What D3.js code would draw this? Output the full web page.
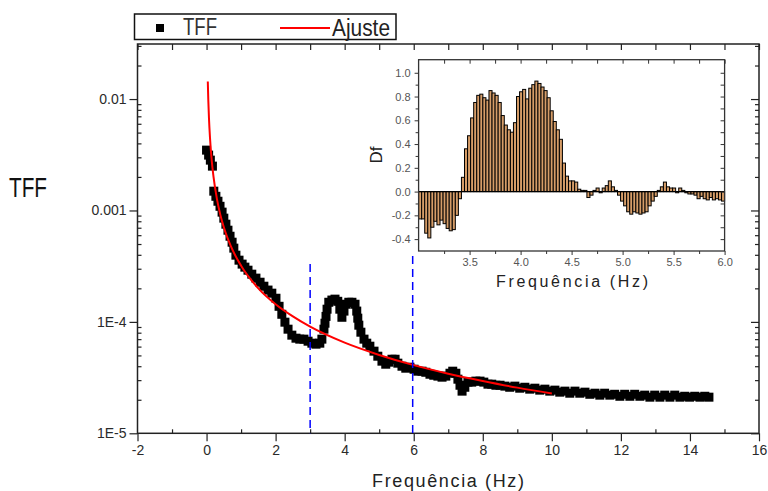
<!DOCTYPE html>
<html><head><meta charset="utf-8">
<script src="https://cdn.jsdelivr.net/npm/d3@7"></script>
<style>
body{margin:0;background:#fff}
svg{display:block}
text{font-family:"Liberation Sans",Arial,sans-serif}
</style>
</head><body>
<svg id="c" width="768" height="491"></svg>
<script>
// ---------- data ----------
const mainFreq = [0.00,0.06,0.11,0.17,0.21,0.27,0.33,0.39,0.45,0.50,
  0.56,0.62,0.68,0.74,0.79,0.85,0.94,1.03,1.11,1.20,
  1.31,1.43,1.55,1.66,1.78,1.89,2.01,2.10,2.18,2.27,
  2.36,2.47,2.59,2.70,2.82,2.94,3.05,3.17,3.28,3.34,
  3.40,3.43,3.46,3.49,3.54,3.63,3.72,3.80,3.86,3.92,
  3.98,4.04,4.12,4.21,4.30,4.35,4.38,4.41,4.47,4.56,
  4.64,4.73,4.85,4.96,5.08,5.19,5.28,5.37,5.46,5.54,
  5.66,5.77,5.89,6.01,6.12,6.24,6.35,6.47,6.58,6.70,
  6.82,6.93,7.05,7.13,7.22,7.28,7.34,7.40,7.48,7.57,
  7.68,7.80,7.92,8.03,8.15,8.26,8.38,8.50,8.64,8.78,
  8.93,9.07,9.22,9.36,9.51,9.65,9.80,9.94,10.09,10.23,
  10.38,10.52,10.67,10.81,10.96,11.10,11.25,11.39,11.53,11.68,
  11.82,11.97,12.11,12.26,12.40,12.55,12.69,12.84,12.98,13.13,
  13.27,13.42,13.56,13.71,13.85,13.99,14.14,14.29,14.43,14.55];
const mainTff = [3.48e-3,3.14e-3,2.83e-3,2.50e-3,1.49e-3,1.34e-3,1.21e-3,1.09e-3,9.66e-4,8.53e-4,
  7.53e-4,6.65e-4,5.87e-4,5.19e-4,4.59e-4,3.97e-4,3.58e-4,3.30e-4,3.10e-4,2.91e-4,
  2.68e-4,2.47e-4,2.27e-4,2.09e-4,1.93e-4,1.81e-4,1.63e-4,1.38e-4,1.17e-4,9.94e-5,
  8.60e-5,7.60e-5,7.14e-5,7.00e-5,7.00e-5,6.71e-5,6.44e-5,6.31e-5,6.44e-5,7.00e-5,
  8.60e-5,9.73e-5,1.12e-4,1.30e-4,1.50e-4,1.57e-4,1.60e-4,1.53e-4,1.30e-4,1.10e-4,
  1.25e-4,1.44e-4,1.50e-4,1.50e-4,1.44e-4,1.25e-4,1.08e-4,9.34e-5,8.08e-5,7.00e-5,
  6.44e-5,6.05e-5,5.46e-5,4.92e-5,4.44e-5,4.17e-5,4.35e-5,4.62e-5,4.62e-5,4.26e-5,
  4.00e-5,3.84e-5,3.92e-5,3.76e-5,3.61e-5,3.61e-5,3.53e-5,3.39e-5,3.32e-5,3.26e-5,
  3.19e-5,3.26e-5,3.46e-5,3.61e-5,3.46e-5,3.06e-5,2.70e-5,2.39e-5,2.59e-5,2.88e-5,
  2.88e-5,2.94e-5,2.94e-5,2.88e-5,2.76e-5,2.76e-5,2.70e-5,2.70e-5,2.65e-5,2.59e-5,
  2.65e-5,2.54e-5,2.59e-5,2.49e-5,2.54e-5,2.44e-5,2.49e-5,2.39e-5,2.44e-5,2.34e-5,
  2.39e-5,2.29e-5,2.39e-5,2.29e-5,2.34e-5,2.24e-5,2.29e-5,2.20e-5,2.29e-5,2.20e-5,
  2.24e-5,2.15e-5,2.24e-5,2.15e-5,2.24e-5,2.15e-5,2.20e-5,2.11e-5,2.20e-5,2.11e-5,
  2.20e-5,2.11e-5,2.20e-5,2.11e-5,2.15e-5,2.11e-5,2.15e-5,2.11e-5,2.15e-5,2.11e-5];

const fitFreq = [0.036,0.05,0.07,0.1,0.15,0.2,0.3,0.4,0.5,0.7,1,1.5,2,2.5,3,4,5,6,7,8,9,10];
const fitTff  = [1.44e-2,9.88e-3,6.72e-3,4.47e-3,2.80e-3,2.02e-3,1.27e-3,9.12e-4,7.06e-4,4.80e-4,
  3.19e-4,2.00e-4,1.44e-4,1.12e-4,9.06e-5,6.51e-5,5.05e-5,4.09e-5,3.43e-5,2.95e-5,2.57e-5,2.28e-5];

const cutFreq = [3.0, 5.97];
const cutTop  = [3.3e-4, 3.9e-4];

const xMajorTicks = [-2,0,2,4,6,8,10,12,14,16];
const xMinorTicks = [-1,1,3,5,7,9,11,13,15];
const yMajorTicks = [1e-5,1e-4,1e-3,1e-2];
const yMajorLabels = ["1E-5","1E-4","0.001","0.01"];

// inset (Df) bars
const dfStart = 3.015, dfStep = 0.03;
const dfValues = [-0.23,-0.23,-0.35,-0.39,-0.30,-0.25,-0.28,-0.24,-0.27,-0.31,
  -0.33,-0.32,-0.20,-0.06,0.12,0.36,0.47,0.62,0.75,0.81,
  0.82,0.79,0.77,0.85,0.83,0.81,0.75,0.64,0.56,0.52,
  0.50,0.58,0.80,0.84,0.86,0.78,0.87,0.90,0.93,0.91,
  0.88,0.85,0.79,0.68,0.59,0.52,0.44,0.24,0.13,0.09,
  0.09,0.08,0.02,0.01,0.01,-0.05,-0.03,0.01,0.03,-0.01,
  0.03,0.05,0.09,0.04,0.01,-0.03,-0.08,-0.12,-0.17,-0.19,
  -0.17,-0.18,-0.19,-0.18,-0.17,-0.12,-0.08,-0.04,0.01,0.04,
  0.08,0.04,0.03,0.03,-0.01,0.03,0.01,-0.01,-0.02,-0.02,
  -0.03,-0.06,-0.04,-0.06,-0.07,-0.05,-0.07,-0.06,-0.07,-0.08];
const dfFreq = dfValues.map((_, i) => +(dfStart + i * dfStep).toFixed(3));
const insetXTicks = [3.5,4.0,4.5,5.0,5.5,6.0];
const insetXMinor = [3.25,3.75,4.25,4.75,5.25,5.75];
const insetYTicks = [-0.4,-0.2,0.0,0.2,0.4,0.6,0.8,1.0];
const insetYMinor = [-0.3,-0.1,0.1,0.3,0.5,0.7,0.9];

// ---------- drawing ----------
const svg = d3.select("#c");
const P = {left:137.5, right:759, top:44, bottom:433.3};
const x = d3.scaleLinear().domain([-2,16]).range([P.left, P.right]);
const y = d3.scaleLog().domain([1e-5, 0.0312]).range([P.bottom, P.top]);
const yMinor = [];
[1e-5,1e-4,1e-3,1e-2].forEach(d => { for (let k=2;k<=9;k++){ const v=d*k; if (v<=0.0312) yMinor.push(v);} });

const axisColor = "#222";
function styleAxis(g, fs){
  g.select(".domain").remove();
  g.selectAll(".tick line").attr("stroke", axisColor).attr("stroke-width", 1.2);
  g.selectAll(".tick text").attr("fill", "#2a2a2a").style("font-size", fs+"px")
    .style("font-family", '"Liberation Sans",Arial,sans-serif');
}

// main axes
svg.append("g").attr("transform", `translate(0,${P.bottom})`)
  .call(d3.axisBottom(x).tickValues(xMajorTicks).tickSize(8).tickPadding(4).tickFormat(d => String(d)))
  .call(g => styleAxis(g, 14));
svg.append("g").attr("transform", `translate(0,${P.bottom})`)
  .call(d3.axisBottom(x).tickValues(xMinorTicks).tickSize(-4).tickFormat(""))
  .call(g => styleAxis(g, 14));
svg.append("g").attr("transform", `translate(0,${P.top})`)
  .call(d3.axisTop(x).tickValues(xMajorTicks.concat(xMinorTicks)).tickSize(-6).tickFormat(""))
  .call(g => styleAxis(g, 14));
svg.append("g").attr("transform", `translate(${P.left},0)`)
  .call(d3.axisLeft(y).tickValues(yMajorTicks).tickSize(8).tickPadding(3)
        .tickFormat((d,i) => yMajorLabels[i]))
  .call(g => styleAxis(g, 14));
svg.append("g").attr("transform", `translate(${P.left},0)`)
  .call(d3.axisLeft(y).tickValues(yMinor).tickSize(-4).tickFormat(""))
  .call(g => styleAxis(g, 14));
svg.append("g").attr("transform", `translate(${P.right},0)`)
  .call(d3.axisRight(y).tickValues(yMajorTicks).tickSize(-8).tickFormat(""))
  .call(g => styleAxis(g, 14));
svg.append("g").attr("transform", `translate(${P.right},0)`)
  .call(d3.axisRight(y).tickValues(yMinor).tickSize(-4).tickFormat(""))
  .call(g => styleAxis(g, 14));

svg.append("rect").attr("x", P.left).attr("y", P.top)
  .attr("width", P.right-P.left).attr("height", P.bottom-P.top)
  .attr("fill","none").attr("stroke", axisColor).attr("stroke-width", 1.5);

// main data squares
const ms = 9;
svg.append("g").selectAll("rect").data(mainFreq).join("rect")
  .attr("x", (d,i) => x(d) - ms/2).attr("y", (d,i) => y(mainTff[i]) - ms/2)
  .attr("width", ms).attr("height", ms).attr("fill", "#000");

// fit line
const fitPts = fitFreq.map((f,i) => [f, fitTff[i]]);
svg.append("path").datum(fitPts)
  .attr("d", d3.line().x(d => x(d[0])).y(d => y(d[1])).curve(d3.curveMonotoneX))
  .attr("fill","none").attr("stroke","#ff0000").attr("stroke-width", 2);

// dashed cut lines
svg.append("g").selectAll("line").data(cutFreq).join("line")
  .attr("x1", d => x(d)).attr("x2", d => x(d))
  .attr("y1", (d,i) => y(cutTop[i])).attr("y2", P.bottom)
  .attr("stroke", "#0000ff").attr("stroke-width", 1.5).attr("stroke-dasharray", "8,5");

// axis titles
svg.append("text").attr("x", 448).attr("y", 487).attr("text-anchor","middle")
  .attr("textLength", 152).attr("lengthAdjust","spacing")
  .style("font-size","18px").attr("fill","#222").text("Frequência (Hz)");
svg.append("text").attr("x", 9).attr("y", 197)
  .attr("textLength", 38).attr("lengthAdjust","spacingAndGlyphs")
  .style("font-size","27px").attr("fill","#111").text("TFF");

// legend
const lg = svg.append("g");
lg.append("rect").attr("x",134.5).attr("y",14).attr("width",261.5).attr("height",25.5)
  .attr("fill","#fff").attr("stroke","#111").attr("stroke-width",1.5);
lg.append("rect").attr("x",156).attr("y",24).attr("width",8).attr("height",8).attr("fill","#000");
lg.append("text").attr("x",183).attr("y",35).attr("textLength",34).attr("lengthAdjust","spacingAndGlyphs")
  .style("font-size","23px").attr("fill","#333").text("TFF");
lg.append("line").attr("x1",280).attr("x2",330).attr("y1",28).attr("y2",28)
  .attr("stroke","#ff0000").attr("stroke-width",2);
lg.append("text").attr("x",332).attr("y",36).attr("textLength",58).attr("lengthAdjust","spacingAndGlyphs")
  .style("font-size","23px").attr("fill","#222").text("Ajuste");

// ---------- inset ----------
const I = {left:418.6, right:724.6, top:59.7, bottom:251};
const ix = d3.scaleLinear().domain([3.0, 6.0]).range([I.left, I.right]);
const iy = d3.scaleLinear().domain([-0.5, 1.11]).range([I.bottom, I.top]);
const ig = svg.append("g");
ig.append("rect").attr("x",I.left).attr("y",I.top).attr("width",I.right-I.left)
  .attr("height",I.bottom-I.top).attr("fill","#fff");

const bw = ix(dfStep) - ix(0);
ig.append("g").selectAll("rect").data(dfValues).join("rect")
  .attr("x", (d,i) => ix(dfFreq[i]) - bw/2)
  .attr("y", d => iy(Math.max(0,d)))
  .attr("width", bw)
  .attr("height", d => Math.abs(iy(d) - iy(0)))
  .attr("fill", "#d69d68").attr("stroke", "#000").attr("stroke-width", 1);
ig.append("line").attr("x1",I.left).attr("x2",I.right).attr("y1",iy(0)).attr("y2",iy(0))
  .attr("stroke","#000").attr("stroke-width",1.2);

function styleInset(g){
  g.select(".domain").remove();
  g.selectAll(".tick line").attr("stroke","#333").attr("stroke-width",1);
  g.selectAll(".tick text").attr("fill","#555").style("font-size","11px");
}
ig.append("g").attr("transform",`translate(0,${I.bottom})`)
  .call(d3.axisBottom(ix).tickValues(insetXTicks).tickSize(4).tickPadding(3).tickFormat(d3.format(".1f")))
  .call(styleInset);
ig.append("g").attr("transform",`translate(0,${I.bottom})`)
  .call(d3.axisBottom(ix).tickValues(insetXMinor).tickSize(3).tickFormat(""))
  .call(styleInset);
ig.append("g").attr("transform",`translate(0,${I.top})`)
  .call(d3.axisTop(ix).tickValues(insetXTicks.concat(insetXMinor)).tickSize(-4).tickFormat(""))
  .call(styleInset);
ig.append("g").attr("transform",`translate(${I.left},0)`)
  .call(d3.axisLeft(iy).tickValues(insetYTicks).tickSize(4).tickPadding(4).tickFormat(d3.format(".1f")))
  .call(styleInset);
ig.append("g").attr("transform",`translate(${I.left},0)`)
  .call(d3.axisLeft(iy).tickValues(insetYMinor).tickSize(3).tickFormat(""))
  .call(styleInset);
ig.append("g").attr("transform",`translate(${I.right},0)`)
  .call(d3.axisRight(iy).tickValues(insetYTicks.concat(insetYMinor)).tickSize(-4).tickFormat(""))
  .call(styleInset);
ig.selectAll(".tick text").text(function(){ return this.textContent.replace("−","-"); });

ig.append("rect").attr("x",I.left).attr("y",I.top).attr("width",I.right-I.left)
  .attr("height",I.bottom-I.top).attr("fill","none").attr("stroke","#333").attr("stroke-width",1.3);

ig.append("text").attr("x",572).attr("y",287).attr("text-anchor","middle")
  .attr("textLength",152).attr("lengthAdjust","spacing")
  .style("font-size","16px").attr("fill","#222").text("Frequência (Hz)");
ig.append("text").attr("transform","translate(382,155) rotate(-90)").attr("text-anchor","middle")
  .style("font-size","17px").attr("fill","#222").text("Df");
</script>
</body></html>
